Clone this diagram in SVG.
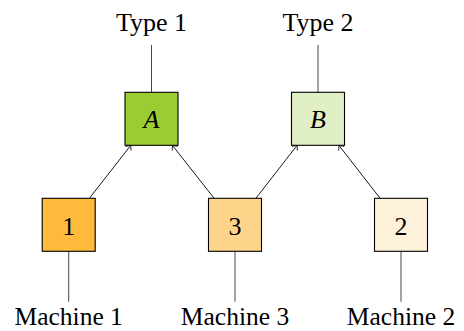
<svg xmlns="http://www.w3.org/2000/svg" width="464" height="331" viewBox="0 0 464 331">
<defs>
<style>
.box{stroke:#000;stroke-width:1.1}
.lbl{font-family:"Liberation Serif","DejaVu Serif",serif;font-size:26px;fill:#000;text-anchor:middle}
.bot{font-size:25.5px}
.it{font-style:italic}
.leg{stroke:#333;stroke-width:0.9;fill:none}
.arr{stroke:#000;stroke-width:0.9;fill:none;marker-end:url(#to)}
</style>
<marker id="to" markerUnits="userSpaceOnUse" markerWidth="12" markerHeight="12" refX="0" refY="0" viewBox="-6 -6 12 12" orient="auto" overflow="visible">
<path d="M -4 -3.4 Q -1.2 -0.9 0 0 Q -1.2 0.9 -4 3.4" stroke="#000" stroke-width="0.8" fill="none"/>
</marker>
</defs>
<rect width="464" height="331" fill="#fff"/>
<g id="connectors">
<line class="leg" x1="151.5" y1="45" x2="151.5" y2="92.3"/>
<line class="leg" x1="318" y1="45" x2="318" y2="92.3"/>
<line class="leg" x1="68.7" y1="251.3" x2="68.7" y2="301.7"/>
<line class="leg" x1="235" y1="251.3" x2="235" y2="301.7"/>
<line class="leg" x1="401" y1="251.3" x2="401" y2="301.7"/>
<line class="arr" x1="89.4" y1="198.3" x2="130.8" y2="145.3"/>
<line class="arr" x1="214.1" y1="198.3" x2="172.4" y2="145.3"/>
<line class="arr" x1="255.9" y1="198.3" x2="297.1" y2="145.3"/>
<line class="arr" x1="380.1" y1="198.3" x2="338.9" y2="145.3"/>
</g>
<g id="type1"><text class="lbl" x="151.5" y="30.5">Type 1</text></g>
<g id="type2"><text class="lbl" x="318" y="30.5">Type 2</text></g>
<g id="nodeA"><rect class="box" x="125" y="92.3" width="53" height="53" fill="#9ACD32"/><text class="lbl it" x="151.5" y="128.3">A</text></g>
<g id="nodeB"><rect class="box" x="291.5" y="92.3" width="53" height="53" fill="#E1F0C4"/><text class="lbl it" x="318" y="128.3">B</text></g>
<g id="node1"><rect class="box" x="42.2" y="198.3" width="53" height="53" fill="#FDBA3C"/><text class="lbl" x="68.7" y="235">1</text></g>
<g id="node3"><rect class="box" x="208.5" y="198.3" width="53" height="53" fill="#FED48A"/><text class="lbl" x="235" y="235">3</text></g>
<g id="node2"><rect class="box" x="374.5" y="198.3" width="53" height="53" fill="#FEF1DA"/><text class="lbl" x="401" y="235">2</text></g>
<g id="machine1"><text class="lbl bot" x="68.7" y="325">Machine 1</text></g>
<g id="machine3"><text class="lbl bot" x="235" y="325">Machine 3</text></g>
<g id="machine2"><text class="lbl bot" x="401" y="325">Machine 2</text></g>
</svg>
